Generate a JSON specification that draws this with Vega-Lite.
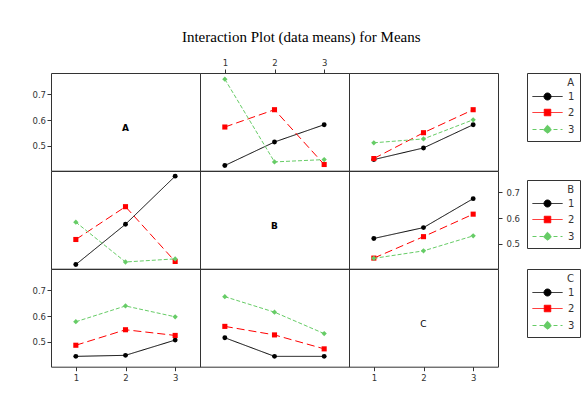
{
  "$schema": "https://vega.github.io/schema/vega-lite/v6.json",
  "autosize": {"type": "pad"},
  "padding": {"left": 31, "top": 29, "right": 0, "bottom": 0},
  "background": "white",
  "title": {"text": "Interaction Plot (data means) for Means", "font": "Liberation Serif", "fontSize": 15, "fontWeight": "normal", "color": "#000000", "anchor": "middle", "offset": 13, "dx": -5},
  "datasets": {
    "means": [
      {"r": "A", "c": "B", "x": 1, "trace": "1", "mean": 0.424},
      {"r": "A", "c": "B", "x": 2, "trace": "1", "mean": 0.515},
      {"r": "A", "c": "B", "x": 3, "trace": "1", "mean": 0.582},
      {"r": "A", "c": "B", "x": 1, "trace": "2", "mean": 0.573},
      {"r": "A", "c": "B", "x": 2, "trace": "2", "mean": 0.640},
      {"r": "A", "c": "B", "x": 3, "trace": "2", "mean": 0.428},
      {"r": "A", "c": "B", "x": 1, "trace": "3", "mean": 0.758},
      {"r": "A", "c": "B", "x": 2, "trace": "3", "mean": 0.438},
      {"r": "A", "c": "B", "x": 3, "trace": "3", "mean": 0.447},
      {"r": "A", "c": "C", "x": 1, "trace": "1", "mean": 0.447},
      {"r": "A", "c": "C", "x": 2, "trace": "1", "mean": 0.492},
      {"r": "A", "c": "C", "x": 3, "trace": "1", "mean": 0.582},
      {"r": "A", "c": "C", "x": 1, "trace": "2", "mean": 0.451},
      {"r": "A", "c": "C", "x": 2, "trace": "2", "mean": 0.551},
      {"r": "A", "c": "C", "x": 3, "trace": "2", "mean": 0.640},
      {"r": "A", "c": "C", "x": 1, "trace": "3", "mean": 0.512},
      {"r": "A", "c": "C", "x": 2, "trace": "3", "mean": 0.527},
      {"r": "A", "c": "C", "x": 3, "trace": "3", "mean": 0.601},
      {"r": "B", "c": "A", "x": 1, "trace": "1", "mean": 0.420},
      {"r": "B", "c": "A", "x": 2, "trace": "1", "mean": 0.576},
      {"r": "B", "c": "A", "x": 3, "trace": "1", "mean": 0.762},
      {"r": "B", "c": "A", "x": 1, "trace": "2", "mean": 0.517},
      {"r": "B", "c": "A", "x": 2, "trace": "2", "mean": 0.644},
      {"r": "B", "c": "A", "x": 3, "trace": "2", "mean": 0.432},
      {"r": "B", "c": "A", "x": 1, "trace": "3", "mean": 0.584},
      {"r": "B", "c": "A", "x": 2, "trace": "3", "mean": 0.430},
      {"r": "B", "c": "A", "x": 3, "trace": "3", "mean": 0.442},
      {"r": "B", "c": "C", "x": 1, "trace": "1", "mean": 0.521},
      {"r": "B", "c": "C", "x": 2, "trace": "1", "mean": 0.563},
      {"r": "B", "c": "C", "x": 3, "trace": "1", "mean": 0.675},
      {"r": "B", "c": "C", "x": 1, "trace": "2", "mean": 0.445},
      {"r": "B", "c": "C", "x": 2, "trace": "2", "mean": 0.528},
      {"r": "B", "c": "C", "x": 3, "trace": "2", "mean": 0.615},
      {"r": "B", "c": "C", "x": 1, "trace": "3", "mean": 0.444},
      {"r": "B", "c": "C", "x": 2, "trace": "3", "mean": 0.473},
      {"r": "B", "c": "C", "x": 3, "trace": "3", "mean": 0.531},
      {"r": "C", "c": "A", "x": 1, "trace": "1", "mean": 0.444},
      {"r": "C", "c": "A", "x": 2, "trace": "1", "mean": 0.448},
      {"r": "C", "c": "A", "x": 3, "trace": "1", "mean": 0.507},
      {"r": "C", "c": "A", "x": 1, "trace": "2", "mean": 0.487},
      {"r": "C", "c": "A", "x": 2, "trace": "2", "mean": 0.547},
      {"r": "C", "c": "A", "x": 3, "trace": "2", "mean": 0.525},
      {"r": "C", "c": "A", "x": 1, "trace": "3", "mean": 0.578},
      {"r": "C", "c": "A", "x": 2, "trace": "3", "mean": 0.639},
      {"r": "C", "c": "A", "x": 3, "trace": "3", "mean": 0.597},
      {"r": "C", "c": "B", "x": 1, "trace": "1", "mean": 0.516},
      {"r": "C", "c": "B", "x": 2, "trace": "1", "mean": 0.444},
      {"r": "C", "c": "B", "x": 3, "trace": "1", "mean": 0.444},
      {"r": "C", "c": "B", "x": 1, "trace": "2", "mean": 0.560},
      {"r": "C", "c": "B", "x": 2, "trace": "2", "mean": 0.527},
      {"r": "C", "c": "B", "x": 3, "trace": "2", "mean": 0.473},
      {"r": "C", "c": "B", "x": 1, "trace": "3", "mean": 0.675},
      {"r": "C", "c": "B", "x": 2, "trace": "3", "mean": 0.615},
      {"r": "C", "c": "B", "x": 3, "trace": "3", "mean": 0.532}
    ]
  },
  "columns": 3,
  "spacing": 0,
  "bounds": "flush",
  "resolve": {
    "scale": {"color": "independent", "shape": "independent", "strokeDash": "independent", "size": "independent"},
    "legend": {"color": "independent", "shape": "independent", "strokeDash": "independent", "size": "independent"}
  },
  "concat": [
    {
      "width": 149, "height": 97.7,
      "data": {"values": [{"label": "A"}]},
      "mark": {"type": "text", "font": "DejaVu Sans", "fontSize": 9, "fontWeight": "bold", "dy": 6, "color": "#000000"},
      "encoding": {
        "text": {"field": "label"},
        "x": {"datum": 2, "type": "quantitative", "scale": {"domain": [0.5, 3.5], "nice": false, "zero": false}, "axis": null},
        "y": {"datum": 0.593, "type": "quantitative", "scale": {"domain": [0.404, 0.782], "nice": false, "zero": false}, "axis": {"orient": "left", "values": [0.5, 0.6, 0.7], "format": ".1f", "title": null, "labelPadding": 1.5}}
      }
    },
    {
      "width": 149, "height": 97.7,
      "data": {"name": "means"},
      "transform": [{"filter": "datum.r === 'A' && datum.c === 'B'"}],
      "encoding": {
        "x": {"field": "x", "type": "quantitative", "scale": {"domain": [0.5, 3.5], "nice": false, "zero": false}, "axis": {"orient": "top", "values": [1, 2, 3], "format": "d", "title": null, "labelPadding": 2}},
        "y": {"field": "mean", "type": "quantitative", "scale": {"domain": [0.404, 0.782], "nice": false, "zero": false}, "axis": null},
        "color": {"field": "trace", "type": "nominal", "scale": {"domain": ["1", "2", "3"], "range": ["#000000", "#ff0000", "#66cc66"]}, "legend": null}
      },
      "layer": [
        {"mark": {"type": "line", "strokeWidth": 1}, "encoding": {"strokeDash": {"field": "trace", "type": "nominal", "scale": {"range": [[1, 0], [8, 4], [4, 2]]}, "legend": null}}},
        {"mark": {"type": "point", "filled": true, "opacity": 1}, "encoding": {"shape": {"field": "trace", "type": "nominal", "scale": {"range": ["circle", "square", "diamond"]}, "legend": null}, "size": {"field": "trace", "type": "ordinal", "scale": {"range": [24, 28, 42]}, "legend": null}}}
      ]
    },
    {
      "width": 149, "height": 97.7,
      "data": {"name": "means"},
      "transform": [{"filter": "datum.r === 'A' && datum.c === 'C'"}],
      "encoding": {
        "x": {"field": "x", "type": "quantitative", "scale": {"domain": [0.5, 3.5], "nice": false, "zero": false}, "axis": null},
        "y": {"field": "mean", "type": "quantitative", "scale": {"domain": [0.404, 0.782], "nice": false, "zero": false}, "axis": null},
        "color": {"field": "trace", "type": "nominal", "scale": {"domain": ["1", "2", "3"], "range": ["#000000", "#ff0000", "#66cc66"]},
          "legend": {"title": "A", "orient": "none", "legendX": 178, "legendY": 0, "direction": "vertical", "titleAnchor": "end", "titleAlign": "right", "padding": 5, "strokeColor": "#333333", "fillColor": "white", "symbolSize": 100, "symbolStrokeWidth": 1, "symbolOffset": 10, "labelOffset": 15, "rowPadding": 5, "titlePadding": 3, "labelFont": "DejaVu Sans", "labelFontSize": 10, "labelColor": "#333333", "titleFont": "DejaVu Sans", "titleFontSize": 10, "titleFontWeight": "normal", "titleColor": "#333333",
            "encode": {"symbols": {"update": {
              "shape": {"signal": "datum.value === '1' ? 'M-3,0H3M-0.7,0A0.7,0.7,0,1,1,0.7,0A0.7,0.7,0,1,1,-0.7,0Z' : datum.value === '2' ? 'M-3,0H3M-0.65,-0.65H0.65V0.65H-0.65Z' : 'M-3,0H3M0,-0.85L0.85,0L0,0.85L-0.85,0Z'"},
              "fill": {"signal": "datum.value === '1' ? '#000000' : datum.value === '2' ? '#ff0000' : '#66cc66'"},
              "stroke": {"signal": "datum.value === '1' ? '#000000' : datum.value === '2' ? '#ff0000' : '#66cc66'"},
              "strokeDash": {"signal": "datum.value === '3' ? [4, 3] : [1, 0]"},
              "strokeWidth": {"value": 1},
              "opacity": {"value": 1}
            }}}
          }}
      },
      "layer": [
        {"mark": {"type": "line", "strokeWidth": 1}, "encoding": {"strokeDash": {"field": "trace", "type": "nominal", "scale": {"range": [[1, 0], [8, 4], [4, 2]]}, "legend": null}}},
        {"mark": {"type": "point", "filled": true, "opacity": 1}, "encoding": {"shape": {"field": "trace", "type": "nominal", "scale": {"range": ["circle", "square", "diamond"]}, "legend": null}, "size": {"field": "trace", "type": "ordinal", "scale": {"range": [24, 28, 42]}, "legend": null}}}
      ]
    },
    {
      "width": 149, "height": 97.7,
      "data": {"name": "means"},
      "transform": [{"filter": "datum.r === 'B' && datum.c === 'A'"}],
      "encoding": {
        "x": {"field": "x", "type": "quantitative", "scale": {"domain": [0.5, 3.5], "nice": false, "zero": false}, "axis": null},
        "y": {"field": "mean", "type": "quantitative", "scale": {"domain": [0.404, 0.782], "nice": false, "zero": false}, "axis": null},
        "color": {"field": "trace", "type": "nominal", "scale": {"domain": ["1", "2", "3"], "range": ["#000000", "#ff0000", "#66cc66"]}, "legend": null}
      },
      "layer": [
        {"mark": {"type": "line", "strokeWidth": 1}, "encoding": {"strokeDash": {"field": "trace", "type": "nominal", "scale": {"range": [[1, 0], [8, 4], [4, 2]]}, "legend": null}}},
        {"mark": {"type": "point", "filled": true, "opacity": 1}, "encoding": {"shape": {"field": "trace", "type": "nominal", "scale": {"range": ["circle", "square", "diamond"]}, "legend": null}, "size": {"field": "trace", "type": "ordinal", "scale": {"range": [24, 28, 42]}, "legend": null}}}
      ]
    },
    {
      "width": 149, "height": 97.7,
      "data": {"values": [{"label": "B"}]},
      "mark": {"type": "text", "font": "DejaVu Sans", "fontSize": 9, "fontWeight": "bold", "dy": 6, "color": "#000000"},
      "encoding": {
        "text": {"field": "label"},
        "x": {"datum": 2, "type": "quantitative", "scale": {"domain": [0.5, 3.5], "nice": false, "zero": false}, "axis": null},
        "y": {"datum": 0.593, "type": "quantitative", "scale": {"domain": [0.404, 0.782], "nice": false, "zero": false}, "axis": null}
      }
    },
    {
      "width": 149, "height": 97.7,
      "data": {"name": "means"},
      "transform": [{"filter": "datum.r === 'B' && datum.c === 'C'"}],
      "encoding": {
        "x": {"field": "x", "type": "quantitative", "scale": {"domain": [0.5, 3.5], "nice": false, "zero": false}, "axis": null},
        "y": {"field": "mean", "type": "quantitative", "scale": {"domain": [0.404, 0.782], "nice": false, "zero": false}, "axis": {"orient": "right", "values": [0.5, 0.6, 0.7], "format": ".1f", "title": null, "labelPadding": 4}},
        "color": {"field": "trace", "type": "nominal", "scale": {"domain": ["1", "2", "3"], "range": ["#000000", "#ff0000", "#66cc66"]},
          "legend": {"title": "B", "orient": "none", "legendX": 178, "legendY": 9, "direction": "vertical", "titleAnchor": "end", "titleAlign": "right", "padding": 5, "strokeColor": "#333333", "fillColor": "white", "symbolSize": 100, "symbolStrokeWidth": 1, "symbolOffset": 10, "labelOffset": 15, "rowPadding": 5, "titlePadding": 3, "labelFont": "DejaVu Sans", "labelFontSize": 10, "labelColor": "#333333", "titleFont": "DejaVu Sans", "titleFontSize": 10, "titleFontWeight": "normal", "titleColor": "#333333",
            "encode": {"symbols": {"update": {
              "shape": {"signal": "datum.value === '1' ? 'M-3,0H3M-0.7,0A0.7,0.7,0,1,1,0.7,0A0.7,0.7,0,1,1,-0.7,0Z' : datum.value === '2' ? 'M-3,0H3M-0.65,-0.65H0.65V0.65H-0.65Z' : 'M-3,0H3M0,-0.85L0.85,0L0,0.85L-0.85,0Z'"},
              "fill": {"signal": "datum.value === '1' ? '#000000' : datum.value === '2' ? '#ff0000' : '#66cc66'"},
              "stroke": {"signal": "datum.value === '1' ? '#000000' : datum.value === '2' ? '#ff0000' : '#66cc66'"},
              "strokeDash": {"signal": "datum.value === '3' ? [4, 3] : [1, 0]"},
              "strokeWidth": {"value": 1},
              "opacity": {"value": 1}
            }}}
          }}
      },
      "layer": [
        {"mark": {"type": "line", "strokeWidth": 1}, "encoding": {"strokeDash": {"field": "trace", "type": "nominal", "scale": {"range": [[1, 0], [8, 4], [4, 2]]}, "legend": null}}},
        {"mark": {"type": "point", "filled": true, "opacity": 1}, "encoding": {"shape": {"field": "trace", "type": "nominal", "scale": {"range": ["circle", "square", "diamond"]}, "legend": null}, "size": {"field": "trace", "type": "ordinal", "scale": {"range": [24, 28, 42]}, "legend": null}}}
      ]
    },
    {
      "width": 149, "height": 97.7,
      "data": {"name": "means"},
      "transform": [{"filter": "datum.r === 'C' && datum.c === 'A'"}],
      "encoding": {
        "x": {"field": "x", "type": "quantitative", "scale": {"domain": [0.5, 3.5], "nice": false, "zero": false}, "axis": {"orient": "bottom", "values": [1, 2, 3], "format": "d", "title": null, "labelPadding": 3}},
        "y": {"field": "mean", "type": "quantitative", "scale": {"domain": [0.404, 0.782], "nice": false, "zero": false}, "axis": {"orient": "left", "values": [0.5, 0.6, 0.7], "format": ".1f", "title": null, "labelPadding": 1.5}},
        "color": {"field": "trace", "type": "nominal", "scale": {"domain": ["1", "2", "3"], "range": ["#000000", "#ff0000", "#66cc66"]}, "legend": null}
      },
      "layer": [
        {"mark": {"type": "line", "strokeWidth": 1}, "encoding": {"strokeDash": {"field": "trace", "type": "nominal", "scale": {"range": [[1, 0], [8, 4], [4, 2]]}, "legend": null}}},
        {"mark": {"type": "point", "filled": true, "opacity": 1}, "encoding": {"shape": {"field": "trace", "type": "nominal", "scale": {"range": ["circle", "square", "diamond"]}, "legend": null}, "size": {"field": "trace", "type": "ordinal", "scale": {"range": [24, 28, 42]}, "legend": null}}}
      ]
    },
    {
      "width": 149, "height": 97.7,
      "data": {"name": "means"},
      "transform": [{"filter": "datum.r === 'C' && datum.c === 'B'"}],
      "encoding": {
        "x": {"field": "x", "type": "quantitative", "scale": {"domain": [0.5, 3.5], "nice": false, "zero": false}, "axis": null},
        "y": {"field": "mean", "type": "quantitative", "scale": {"domain": [0.404, 0.782], "nice": false, "zero": false}, "axis": null},
        "color": {"field": "trace", "type": "nominal", "scale": {"domain": ["1", "2", "3"], "range": ["#000000", "#ff0000", "#66cc66"]},
          "legend": {"title": "C", "orient": "none", "legendX": 327, "legendY": 0, "direction": "vertical", "titleAnchor": "end", "titleAlign": "right", "padding": 5, "strokeColor": "#333333", "fillColor": "white", "symbolSize": 100, "symbolStrokeWidth": 1, "symbolOffset": 10, "labelOffset": 15, "rowPadding": 5, "titlePadding": 3, "labelFont": "DejaVu Sans", "labelFontSize": 10, "labelColor": "#333333", "titleFont": "DejaVu Sans", "titleFontSize": 10, "titleFontWeight": "normal", "titleColor": "#333333",
            "encode": {"symbols": {"update": {
              "shape": {"signal": "datum.value === '1' ? 'M-3,0H3M-0.7,0A0.7,0.7,0,1,1,0.7,0A0.7,0.7,0,1,1,-0.7,0Z' : datum.value === '2' ? 'M-3,0H3M-0.65,-0.65H0.65V0.65H-0.65Z' : 'M-3,0H3M0,-0.85L0.85,0L0,0.85L-0.85,0Z'"},
              "fill": {"signal": "datum.value === '1' ? '#000000' : datum.value === '2' ? '#ff0000' : '#66cc66'"},
              "stroke": {"signal": "datum.value === '1' ? '#000000' : datum.value === '2' ? '#ff0000' : '#66cc66'"},
              "strokeDash": {"signal": "datum.value === '3' ? [4, 3] : [1, 0]"},
              "strokeWidth": {"value": 1},
              "opacity": {"value": 1}
            }}}
          }}
      },
      "layer": [
        {"mark": {"type": "line", "strokeWidth": 1}, "encoding": {"strokeDash": {"field": "trace", "type": "nominal", "scale": {"range": [[1, 0], [8, 4], [4, 2]]}, "legend": null}}},
        {"mark": {"type": "point", "filled": true, "opacity": 1}, "encoding": {"shape": {"field": "trace", "type": "nominal", "scale": {"range": ["circle", "square", "diamond"]}, "legend": null}, "size": {"field": "trace", "type": "ordinal", "scale": {"range": [24, 28, 42]}, "legend": null}}}
      ]
    },
    {
      "width": 149, "height": 97.7,
      "data": {"values": [{"label": "C"}]},
      "mark": {"type": "text", "font": "DejaVu Sans", "fontSize": 9, "fontWeight": "normal", "dy": 6, "color": "#000000"},
      "encoding": {
        "text": {"field": "label"},
        "x": {"datum": 2, "type": "quantitative", "scale": {"domain": [0.5, 3.5], "nice": false, "zero": false}, "axis": {"orient": "bottom", "values": [1, 2, 3], "format": "d", "title": null, "labelPadding": 3}},
        "y": {"datum": 0.593, "type": "quantitative", "scale": {"domain": [0.404, 0.782], "nice": false, "zero": false}, "axis": null}
      }
    }
  ],
  "config": {
    "view": {"stroke": "#333333", "strokeWidth": 1},
    "axis": {"domain": false, "grid": false, "ticks": true, "tickColor": "#333333", "tickSize": 4, "labelFont": "DejaVu Sans", "labelFontSize": 8.5, "labelColor": "#333333"}
  }
}
